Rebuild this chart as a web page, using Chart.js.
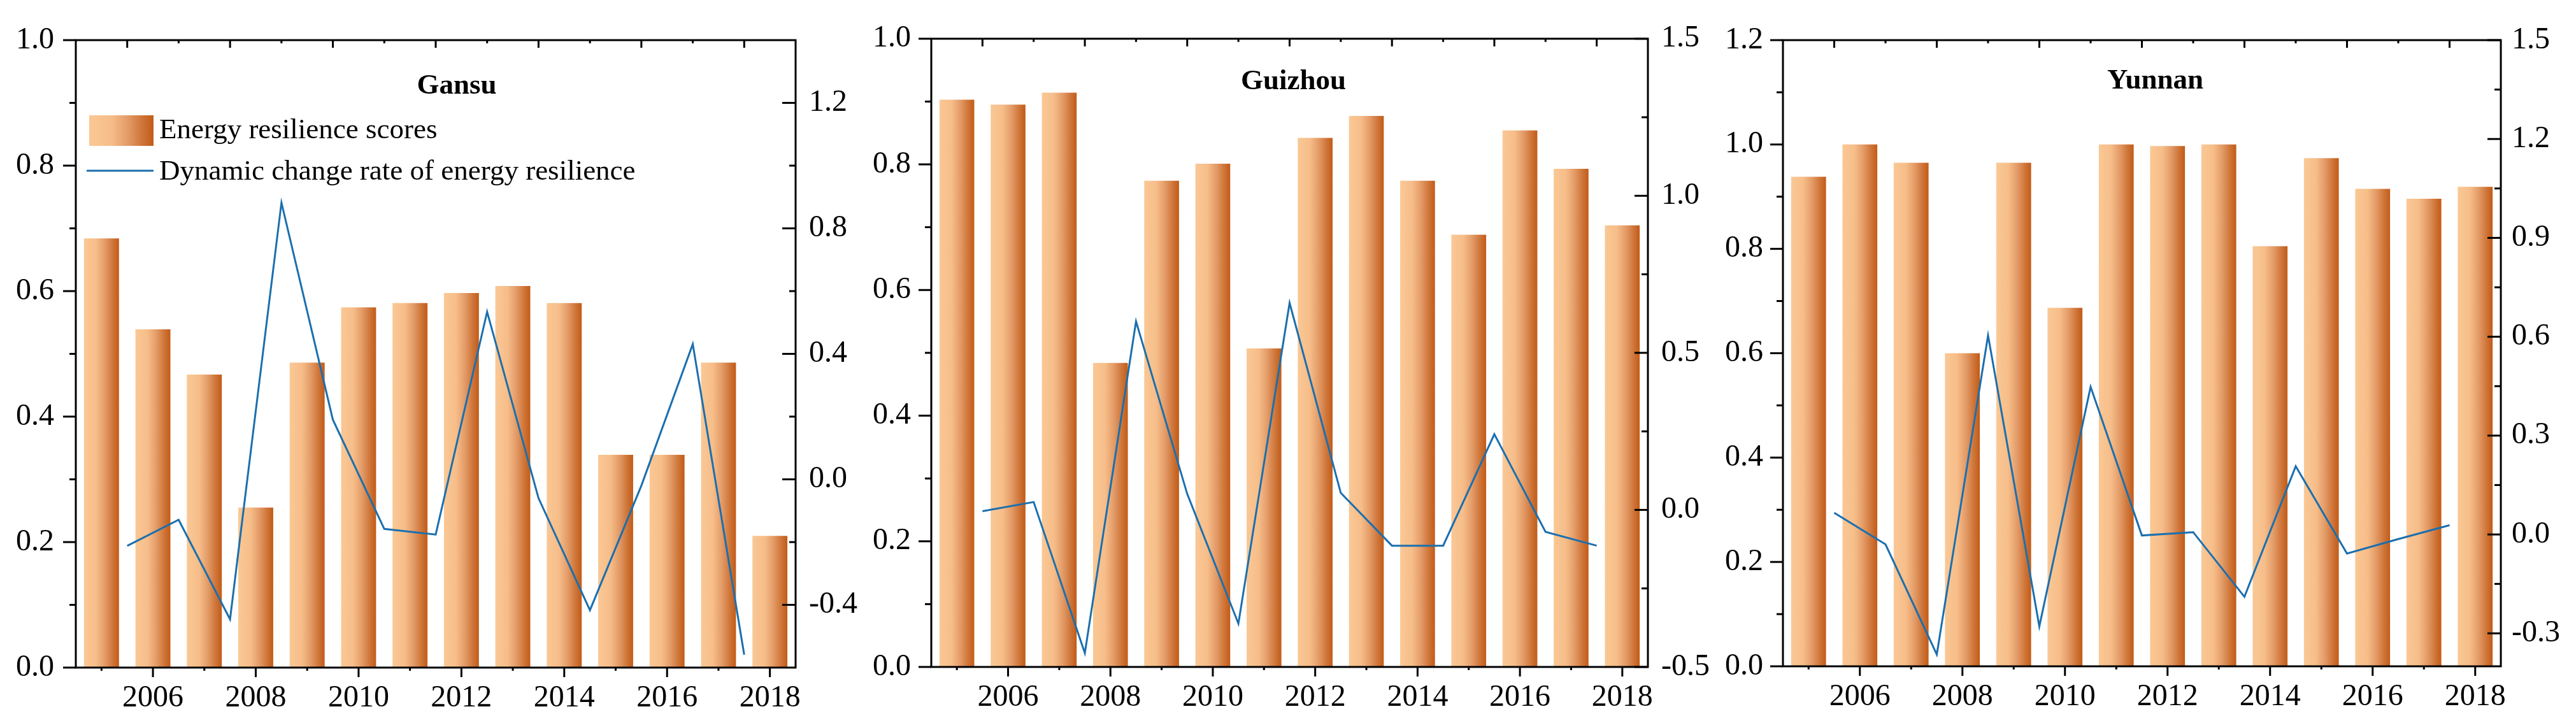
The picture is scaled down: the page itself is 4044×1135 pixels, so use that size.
<!DOCTYPE html>
<html>
<head>
<meta charset="utf-8">
<script src="https://cdn.jsdelivr.net/npm/chart.js@4.4.1/dist/chart.umd.min.js"></script>
<style>
  html, body { margin: 0; padding: 0; background: #fff; }
  #wrap { position: relative; width: 4044px; height: 1135px; background: #fff; }
  .panel { position: absolute; top: 0; width: 1348px; height: 1135px; }
</style>
</head>
<body>
<div id="wrap">
  <div class="panel" style="left:0px"><canvas id="chart-gansu" width="1348" height="1135"></canvas></div>
  <div class="panel" style="left:1348px"><canvas id="chart-guizhou" width="1348" height="1135"></canvas></div>
  <div class="panel" style="left:2696px"><canvas id="chart-yunnan" width="1348" height="1135"></canvas></div>
</div>
<script>
// years of the scores, and the half-year points between them for the change rate
const years = [2005, 2006, 2007, 2008, 2009, 2010, 2011, 2012, 2013, 2014, 2015, 2016, 2017, 2018];
const changeYears = [2005.5, 2006.5, 2007.5, 2008.5, 2009.5, 2010.5, 2011.5, 2012.5, 2013.5, 2014.5, 2015.5, 2016.5, 2017.5];
const xMajor = [2006, 2008, 2010, 2012, 2014, 2016, 2018];
const xMinor = [2005, 2007, 2009, 2011, 2013, 2015, 2017];
const topMajor = [2005.5, 2007.5, 2009.5, 2011.5, 2013.5, 2015.5, 2017.5];
const topMinor = [2006.5, 2008.5, 2010.5, 2012.5, 2014.5, 2016.5];

const gansuScores = [0.684, 0.539, 0.467, 0.255, 0.486, 0.574, 0.581, 0.597, 0.608, 0.581, 0.339, 0.339, 0.486, 0.210];
const gansuChange = [-0.212, -0.129, -0.446, 0.882, 0.19, -0.158, -0.176, 0.534, -0.06, -0.417, -0.02, 0.431, -0.559];
const guizhouScores = [0.903, 0.895, 0.914, 0.484, 0.774, 0.801, 0.507, 0.842, 0.877, 0.774, 0.688, 0.854, 0.793, 0.703];
const guizhouChange = [-0.004, 0.025, -0.456, 0.600, 0.051, -0.362, 0.659, 0.054, -0.114, -0.114, 0.241, -0.070, -0.114];
const yunnanScores = [0.938, 1.0, 0.965, 0.600, 0.965, 0.687, 1.0, 0.997, 1.0, 0.805, 0.974, 0.915, 0.896, 0.919];
const yunnanChange = [0.066, -0.030, -0.364, 0.604, -0.279, 0.448, -0.003, 0.007, -0.189, 0.207, -0.058, -0.014, 0.028];

const leftMajor10 = [0, 0.2, 0.4, 0.6, 0.8, 1.0];
const leftMinor10 = [0.1, 0.3, 0.5, 0.7, 0.9];
const leftMajor12 = [0, 0.2, 0.4, 0.6, 0.8, 1.0, 1.2];
const leftMinor12 = [0.1, 0.3, 0.5, 0.7, 0.9, 1.1];
const gansuRightMajor = [-0.4, 0, 0.4, 0.8, 1.2];
const gansuRightMinor = [-0.2, 0.2, 0.6, 1.0];
const guizhouRightMajor = [-0.5, 0, 0.5, 1.0, 1.5];
const guizhouRightMinor = [-0.25, 0.25, 0.75, 1.25];
const yunnanRightMajor = [-0.3, 0, 0.3, 0.6, 0.9, 1.2, 1.5];
const yunnanRightMinor = [-0.15, 0.15, 0.45, 0.75, 1.05, 1.35];

const LABEL_SCORE = 'Energy resilience scores';
const LABEL_CHANGE = 'Dynamic change rate of energy resilience';

const SERIF = "'Liberation Serif', 'Times New Roman', serif";
const LINE_BLUE = '#1b6fae';
const BAR_STOPS = [[0, '#fac895'], [0.35, '#f6bd89'], [0.6, '#e39b67'], [0.82, '#cf763a'], [1, '#c25b17']];

Chart.defaults.font.family = SERIF;
Chart.defaults.color = '#000';

function barGradient(ctx, x0, x1) {
    const g = ctx.createLinearGradient(x0, 0, x1, 0);
    BAR_STOPS.forEach(s => g.addColorStop(s[0], s[1]));
    return g;
}

// each bar gets its own left-to-right gradient
const gradientPlugin = {
    id: 'barGradient',
    beforeDatasetDraw(chart, args) {
        if (args.meta.type !== 'bar') return;
        args.meta.data.forEach(el => {
            const g = barGradient(chart.ctx, el.x - el.width / 2, el.x + el.width / 2);
            el.options = Object.assign({}, el.options, { backgroundColor: g });
        });
    }
};

// box frame with Origin-style ticks, title and legend
const framePlugin = {
    id: 'frame',
    afterDatasetsDraw(chart, args, o) {
        const { ctx, chartArea: a, scales } = chart;
        ctx.save();
        ctx.strokeStyle = '#000';
        ctx.lineWidth = 3;
        ctx.lineCap = 'butt';
        const seg = (x1, y1, x2, y2) => { ctx.beginPath(); ctx.moveTo(x1, y1); ctx.lineTo(x2, y2); ctx.stroke(); };

        o.leftMajor.forEach(v => { const y = scales.y.getPixelForValue(v); seg(a.left - 20, y, a.left, y); });
        o.leftMinor.forEach(v => { const y = scales.y.getPixelForValue(v); seg(a.left - 10, y, a.left, y); });
        o.rightMajor.forEach(v => { const y = scales.y2.getPixelForValue(v); seg(a.right - 21, y, a.right, y); });
        o.rightMinor.forEach(v => { const y = scales.y2.getPixelForValue(v); seg(a.right - 10, y, a.right, y); });
        xMajor.forEach(v => { const x = scales.x.getPixelForValue(v); seg(x, a.bottom, x, a.bottom + 15); });
        xMinor.forEach(v => { const x = scales.x.getPixelForValue(v); seg(x, a.bottom, x, a.bottom + 5); });
        topMajor.forEach(v => { const x = scales.x.getPixelForValue(v); seg(x, a.top, x, a.top + 12); });
        topMinor.forEach(v => { const x = scales.x.getPixelForValue(v); seg(x, a.top, x, a.top + 5); });
        ctx.strokeRect(a.left, a.top, a.right - a.left, a.bottom - a.top);

        ctx.fillStyle = '#000';
        ctx.textAlign = 'center';
        ctx.textBaseline = 'alphabetic';
        ctx.font = 'bold 45px ' + SERIF;
        ctx.fillText(o.title, (a.left + a.right) / 2 + o.titleDx, a.top + o.titleDy);

        if (o.legend) {
            ctx.fillStyle = barGradient(ctx, a.left + 21, a.left + 122);
            ctx.fillRect(a.left + 21, a.top + 118, 101, 48);
            ctx.strokeStyle = LINE_BLUE;
            seg(a.left + 17, a.top + 205, a.left + 122, a.top + 205);
            ctx.fillStyle = '#000';
            ctx.textAlign = 'left';
            ctx.font = '45px ' + SERIF;
            ctx.fillText(LABEL_SCORE, a.left + 131, a.top + 154);
            ctx.fillText(LABEL_CHANGE, a.left + 131, a.top + 219);
        }
        ctx.restore();
    }
};

function setTicks(list) {
    return scale => { scale.ticks = list.map(v => ({ value: v })); };
}

function renderPanel(p) {
    const ctx = document.getElementById(p.id);
    if (!ctx) return;
    const W = ctx.width, H = ctx.height;
    const tickFont = { family: SERIF, size: 48 };

    new Chart(ctx, {
        type: 'bar',
        data: {
            datasets: [
                {
                    type: 'line',
                    label: LABEL_CHANGE,
                    data: changeYears.map((x, i) => ({ x, y: p.change[i] })),
                    yAxisID: 'y2',
                    borderColor: LINE_BLUE,
                    borderWidth: 3,
                    pointRadius: 0,
                    tension: 0,
                    order: 0
                },
                {
                    type: 'bar',
                    label: LABEL_SCORE,
                    data: years.map((x, i) => ({ x, y: p.scores[i] })),
                    yAxisID: 'y',
                    backgroundColor: '#e8a070',
                    borderWidth: 0,
                    categoryPercentage: 1,
                    barPercentage: 0.68,
                    order: 1
                }
            ]
        },
        options: {
            responsive: false,
            animation: false,
            layout: { padding: { top: p.area.top, left: 0, right: 0, bottom: 0 } },
            plugins: {
                legend: { display: false },
                tooltip: { enabled: false },
                frame: {
                    title: p.title, titleDx: p.titleDx, titleDy: p.titleDy, legend: p.legend,
                    leftMajor: p.leftMajor, leftMinor: p.leftMinor,
                    rightMajor: p.rightMajor, rightMinor: p.rightMinor
                }
            },
            scales: {
                x: {
                    type: 'linear',
                    position: 'bottom',
                    min: 2004.5,
                    max: 2018.5,
                    offset: false,
                    grid: { display: false, drawTicks: false },
                    border: { display: false },
                    afterBuildTicks: setTicks(xMajor),
                    afterFit: s => { s.height = H - p.area.bottom; },
                    ticks: { autoSkip: false, maxRotation: 0, padding: 20, color: '#000', font: tickFont, callback: v => String(v) }
                },
                y: {
                    type: 'linear',
                    position: 'left',
                    min: 0,
                    max: p.yMax,
                    grid: { display: false, drawTicks: false },
                    border: { display: false },
                    afterBuildTicks: setTicks(p.leftMajor),
                    afterFit: s => { s.width = p.area.left; },
                    ticks: { autoSkip: false, padding: p.leftPad, color: '#000', font: tickFont, callback: v => v.toFixed(1) }
                },
                y2: {
                    type: 'linear',
                    position: 'right',
                    min: p.y2Min,
                    max: p.y2Max,
                    grid: { display: false, drawTicks: false },
                    border: { display: false },
                    afterBuildTicks: setTicks(p.rightMajor),
                    afterFit: s => { s.width = W - p.area.right; },
                    ticks: { autoSkip: false, padding: p.rightPad, color: '#000', font: tickFont, callback: v => v.toFixed(1) }
                }
            }
        },
        plugins: [gradientPlugin, framePlugin]
    });
}

const PANELS = [
    {
        id: 'chart-gansu', title: 'Gansu', scores: gansuScores, change: gansuChange,
        yMax: 1.0, leftMajor: leftMajor10, leftMinor: leftMinor10,
        y2Min: -0.6, y2Max: 1.4, rightMajor: gansuRightMajor, rightMinor: gansuRightMinor,
        area: { left: 119, right: 1249, top: 63, bottom: 1048 },
        leftPad: 34, rightPad: 21, titleDx: 33, titleDy: 84, legend: true
    },
    {
        id: 'chart-guizhou', title: 'Guizhou', scores: guizhouScores, change: guizhouChange,
        yMax: 1.0, leftMajor: leftMajor10, leftMinor: leftMinor10,
        y2Min: -0.5, y2Max: 1.5, rightMajor: guizhouRightMajor, rightMinor: guizhouRightMinor,
        area: { left: 114, right: 1239, top: 60, bottom: 1047 },
        leftPad: 32, rightPad: 21, titleDx: 6, titleDy: 79, legend: false
    },
    {
        id: 'chart-yunnan', title: 'Yunnan', scores: yunnanScores, change: yunnanChange,
        yMax: 1.2, leftMajor: leftMajor12, leftMinor: leftMinor12,
        y2Min: -0.4, y2Max: 1.5, rightMajor: yunnanRightMajor, rightMinor: yunnanRightMinor,
        area: { left: 103, right: 1230, top: 63, bottom: 1046 },
        leftPad: 31, rightPad: 17, titleDx: 21, titleDy: 76, legend: false
    }
];

PANELS.forEach(renderPanel);
</script>
</body>
</html>
